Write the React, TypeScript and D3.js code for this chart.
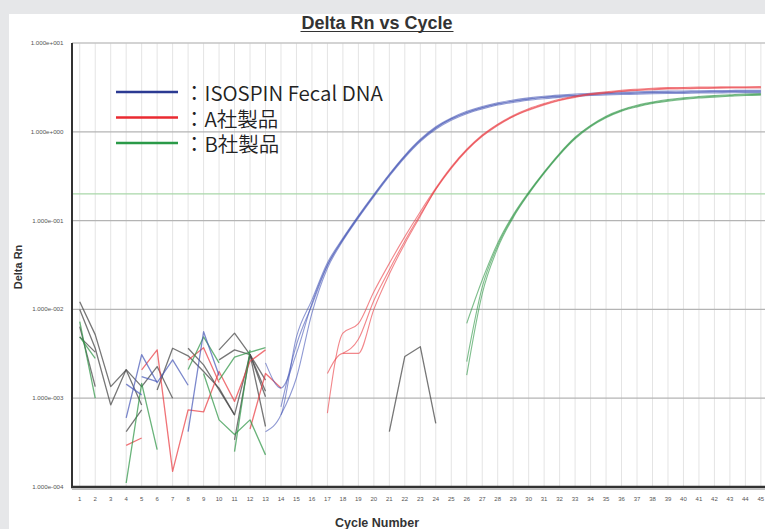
import React from 'react';
import * as d3 from 'd3';

const WIDTH = 765;
const HEIGHT = 529;
const LEFT = 72;
const TOP = 43;
const BOTTOM = 487;
const STEP = 15.48;

const BLUE = '#4a5ab8';
const RED = '#ea3d43';
const GREEN = '#2f9646';
const GRAY = '#4a4a4a';

// cycle axis
const cycles = d3.range(1, 46);
const yTicks = [10, 1, 0.1, 0.01, 0.001, 0.0001];
const yTickLabels = ['1.000e+001', '1.000e+000', '1.000e-001', '1.000e-002', '1.000e-003', '1.000e-004'];
const threshold = 0.2;

// ISOSPIN Fecal DNA (from cycle 13 / 14)
const isospin1 = [4.2e-4, 6.5e-4, 4.9e-3, 0.0128, 0.0335, 0.0635, 0.114, 0.198, 0.335, 0.544, 0.824, 1.14, 1.43, 1.7, 1.93, 2.12, 2.28, 2.41, 2.51, 2.59, 2.66, 2.72, 2.76, 2.8, 2.82, 2.85, 2.87, 2.88, 2.9, 2.91, 2.92, 2.93, 2.93];
const isospin2 = [2.5e-3, 1.3e-3, 3.2e-3, 0.0117, 0.0316, 0.0617, 0.111, 0.193, 0.327, 0.531, 0.804, 1.11, 1.4, 1.66, 1.88, 2.07, 2.22, 2.35, 2.45, 2.53, 2.59, 2.65, 2.69, 2.73, 2.75, 2.78, 2.8, 2.81, 2.83, 2.84, 2.85, 2.86, 2.86];
const isospin3 = [6.5e-4, 1.7e-3, 0.0091, 0.029, 0.0592, 0.107, 0.186, 0.316, 0.512, 0.776, 1.07, 1.35, 1.6, 1.81, 2.0, 2.14, 2.27, 2.36, 2.44, 2.5, 2.56, 2.6, 2.63, 2.65, 2.68, 2.7, 2.71, 2.73, 2.74, 2.75, 2.76, 2.76];
const isospin4 = [8.0e-4, 4.0e-3, 0.0112, 0.0312, 0.061, 0.11, 0.191, 0.324, 0.526, 0.796, 1.1, 1.39, 1.64, 1.86, 2.05, 2.2, 2.33, 2.43, 2.5, 2.56, 2.62, 2.66, 2.7, 2.72, 2.75, 2.77, 2.78, 2.8, 2.81, 2.82, 2.83, 2.83];

// A社製品 (from cycle 17 / 18)
const compA1 = [1.9e-3, 3.2e-3, 3.2e-3, 0.01, 0.025, 0.055, 0.112, 0.226, 0.394, 0.624, 0.902, 1.2, 1.5, 1.78, 2.04, 2.28, 2.48, 2.65, 2.77, 2.88, 2.96, 3.03, 3.08, 3.1, 3.13, 3.14, 3.16, 3.16, 3.17];
const compA2 = [6.8e-4, 5.4e-3, 6.9e-3, 0.0158, 0.033, 0.066, 0.126, 0.232, 0.402, 0.636, 0.92, 1.22, 1.53, 1.82, 2.08, 2.33, 2.53, 2.7, 2.83, 2.94, 3.02, 3.09, 3.14, 3.16, 3.19, 3.2, 3.22, 3.22, 3.23];
const compA3 = [3.2e-3, 4.6e-3, 0.0126, 0.028, 0.059, 0.117, 0.224, 0.388, 0.615, 0.888, 1.18, 1.48, 1.75, 2.01, 2.25, 2.44, 2.61, 2.73, 2.84, 2.92, 2.98, 3.03, 3.05, 3.08, 3.09, 3.11, 3.11, 3.12];

// B社製品 (from cycle 26)
const compB1 = [6.97e-3, 0.0214, 0.056, 0.116, 0.209, 0.354, 0.573, 0.868, 1.18, 1.5, 1.77, 1.99, 2.16, 2.31, 2.42, 2.5, 2.56, 2.61, 2.66, 2.69];
const compB2 = [2.58e-3, 0.0178, 0.0525, 0.112, 0.204, 0.347, 0.562, 0.851, 1.16, 1.47, 1.74, 1.95, 2.12, 2.26, 2.37, 2.45, 2.51, 2.56, 2.61, 2.64];
const compB3 = [1.82e-3, 0.015, 0.049, 0.108, 0.199, 0.34, 0.551, 0.834, 1.14, 1.44, 1.71, 1.91, 2.08, 2.21, 2.32, 2.4, 2.46, 2.51, 2.56, 2.59];

// baseline noise fragments
const grayNoise = [
  { start: 1, values: [0.0122, 0.0052, 0.00135, 0.00208, 0.00084] },
  { start: 1, values: [0.01, 0.00365, 0.00084, 0.0021, 0.00135, 0.00227, 0.001] },
  { start: 1, values: [0.0064, 0.00135] },
  { start: 1, values: [0.0049, 0.0033] },
  { start: 4, values: [0.00042, 0.00074] },
  { start: 6, values: [0.00124, 0.00365, 0.003, 0.002, 0.0013, 0.00065, 0.0031, 0.0012] },
  { start: 8, values: [0.00365, 0.00237, 0.00124, 0.00065] },
  { start: 10, values: [0.0035, 0.0054, 0.0031, 0.00104] },
  { start: 10, values: [0.0027, 0.0035, 0.0031, 0.00048] },
  { start: 11, values: [0.00034, 0.0031, 0.0016] },
  { start: 21, values: [4.2e-4, 2.95e-3, 3.8e-3, 5.2e-4] },
];
const redNoise = [
  { start: 5, values: [0.00208, 0.0035, 0.00015, 0.00074, 0.0007, 0.002, 0.00092, 0.0026, 0.0035] },
  { start: 4, values: [0.000294, 0.000356] },
  { start: 8, values: [0.0027, 0.0037, 0.0015] },
  { start: 12, values: [0.00045, 0.0019, 0.0013] },
];
const greenNoise = [
  { start: 1, values: [0.0073, 0.001] },
  { start: 1, values: [0.0049, 0.0028] },
  { start: 4, values: [0.000111, 0.00147, 0.000263] },
  { start: 8, values: [0.0021, 0.0049, 0.0025] },
  { start: 9, values: [0.0019, 0.00057, 0.00039, 0.00057, 0.00023] },
  { start: 10, values: [0.0016, 0.0029, 0.0033, 0.0037] },
  { start: 11, values: [0.00025, 0.0035] },
];
const blueNoise = [
  { start: 4, values: [0.0006, 0.0031, 0.0015, 0.0027, 0.0014] },
  { start: 4, values: [0.00144, 0.00109] },
  { start: 5, values: [0.00175, 0.00154] },
  { start: 8, values: [0.00042, 0.0056, 0.0018] },
];

const legendItems = [
  { label: '：ISOSPIN Fecal DNA', color: '#2b3a92' },
  { label: '：A社製品', color: '#ea2a31' },
  { label: '：B社製品', color: '#2a9a48' },
];

type Series = { start: number; values: number[]; color: string; smooth?: boolean };

const series: Series[] = [
  ...grayNoise.map((s) => ({ ...s, color: GRAY })),
  ...redNoise.map((s) => ({ ...s, color: RED })),
  ...greenNoise.map((s) => ({ ...s, color: GREEN })),
  ...blueNoise.map((s) => ({ ...s, color: BLUE })),
  { start: 26, values: compB1, color: GREEN, smooth: true },
  { start: 26, values: compB2, color: GREEN, smooth: true },
  { start: 26, values: compB3, color: GREEN, smooth: true },
  { start: 13, values: isospin1, color: BLUE, smooth: true },
  { start: 13, values: isospin2, color: BLUE, smooth: true },
  { start: 14, values: isospin3, color: BLUE, smooth: true },
  { start: 14, values: isospin4, color: BLUE, smooth: true },
  { start: 17, values: compA1, color: RED, smooth: true },
  { start: 17, values: compA2, color: RED, smooth: true },
  { start: 18, values: compA3, color: RED, smooth: true },
];

export default function App() {
  const x = d3.scaleLinear().domain([0.5, 45.5]).range([LEFT, LEFT + 45 * STEP]);
  const y = d3.scaleLog().domain([1e-4, 10]).range([BOTTOM, TOP]);

  const line = (s: Series) =>
    d3
      .line<number>()
      .defined((d) => d != null && d > 0)
      .curve(s.smooth ? d3.curveMonotoneX : d3.curveLinear)
      .x((_, i) => x(s.start + i))
      .y((d) => y(d))(s.values) || '';

  const font = '"Liberation Sans", Arial, sans-serif';

  return (
    <svg
      width={WIDTH}
      height={HEIGHT}
      style={{ position: 'absolute', left: 0, top: 0 }}
      fontFamily={font}
    >
      <defs>
        <clipPath id="plot">
          <rect x={LEFT} y={TOP - 2} width={WIDTH - LEFT} height={BOTTOM - TOP + 2} />
        </clipPath>
      </defs>
      <rect width={WIDTH} height={HEIGHT} fill="#e6e7e9" />
      <rect x={9} y={14} width={WIDTH - 9} height={HEIGHT - 14} fill="#fff" />

      {/* title */}
      <text x={377} y={29} textAnchor="middle" fontSize={18} fontWeight="bold" fill="#333">
        Delta Rn vs Cycle
      </text>
      <line x1={300.5} x2={453.5} y1={31.5} y2={31.5} stroke="#333" strokeWidth={1.2} />

      {/* vertical grid */}
      <g>
        {cycles.map((c) => (
          <line key={c} x1={x(c)} x2={x(c)} y1={TOP} y2={BOTTOM} stroke="#e4e4e4" strokeWidth={1} />
        ))}
      </g>

      {/* horizontal decades */}
      <g>
        {yTicks.map((t, i) => (
          <g key={t}>
            {i > 0 && i < yTicks.length - 1 && (
              <line x1={LEFT} x2={WIDTH} y1={y(t)} y2={y(t)} stroke="#b4b4b4" strokeWidth={1.3} />
            )}
            <text x={63.5} y={y(t) + 2} textAnchor="end" fontSize={6.2} fill="#555">
              {yTickLabels[i]}
            </text>
          </g>
        ))}
      </g>
      <line x1={LEFT} x2={WIDTH} y1={TOP} y2={TOP} stroke="#c4c4c4" strokeWidth={1.6} />

      {/* threshold */}
      <line x1={LEFT} x2={WIDTH} y1={y(threshold)} y2={y(threshold)} stroke="#a9d7a9" strokeWidth={1.4} />

      {/* data */}
      <g clipPath="url(#plot)" fill="none">
        {series.map((s, i) => (
          <path
            key={i}
            d={line(s)}
            stroke={s.color}
            strokeWidth={s.smooth ? 1.1 : 1.3}
            strokeOpacity={s.color === GRAY ? 0.75 : s.smooth ? 0.62 : 0.72}
            strokeLinejoin="round"
          />
        ))}
      </g>

      {/* axes */}
      <line x1={LEFT} x2={LEFT} y1={TOP} y2={BOTTOM + 1} stroke="#333" strokeWidth={2} />
      <line x1={LEFT - 1} x2={WIDTH} y1={BOTTOM} y2={BOTTOM} stroke="#333" strokeWidth={2.4} />
      <line x1={LEFT} x2={WIDTH} y1={BOTTOM + 2.3} y2={BOTTOM + 2.3} stroke="#999" strokeWidth={0.8} />

      {/* x tick labels */}
      <g>
        {cycles.map((c) => (
          <text key={c} x={x(c)} y={501} textAnchor="middle" fontSize={6} fill="#555">
            {c}
          </text>
        ))}
      </g>

      <text x={377} y={527} textAnchor="middle" fontSize={12.5} fontWeight="bold" fill="#333">
        Cycle Number
      </text>
      <text
        transform="translate(21.5,267) rotate(-90)"
        textAnchor="middle"
        fontSize={11}
        fontWeight="bold"
        fill="#333"
      >
        Delta Rn
      </text>

      {/* legend */}
      <g fontFamily='"Noto Sans CJK JP", "Noto Sans", sans-serif'>
        {legendItems.map((item, i) => (
          <g key={item.label} transform={`translate(0,${92 + i * 25.5})`}>
            <line x1={116} x2={178} y1={0} y2={0} stroke={item.color} strokeWidth={2.6} />
            <text x={184} y={9} fontSize={20.5} fill="#222" fontWeight={350}>
              {item.label}
            </text>
          </g>
        ))}
      </g>
    </svg>
  );
}
